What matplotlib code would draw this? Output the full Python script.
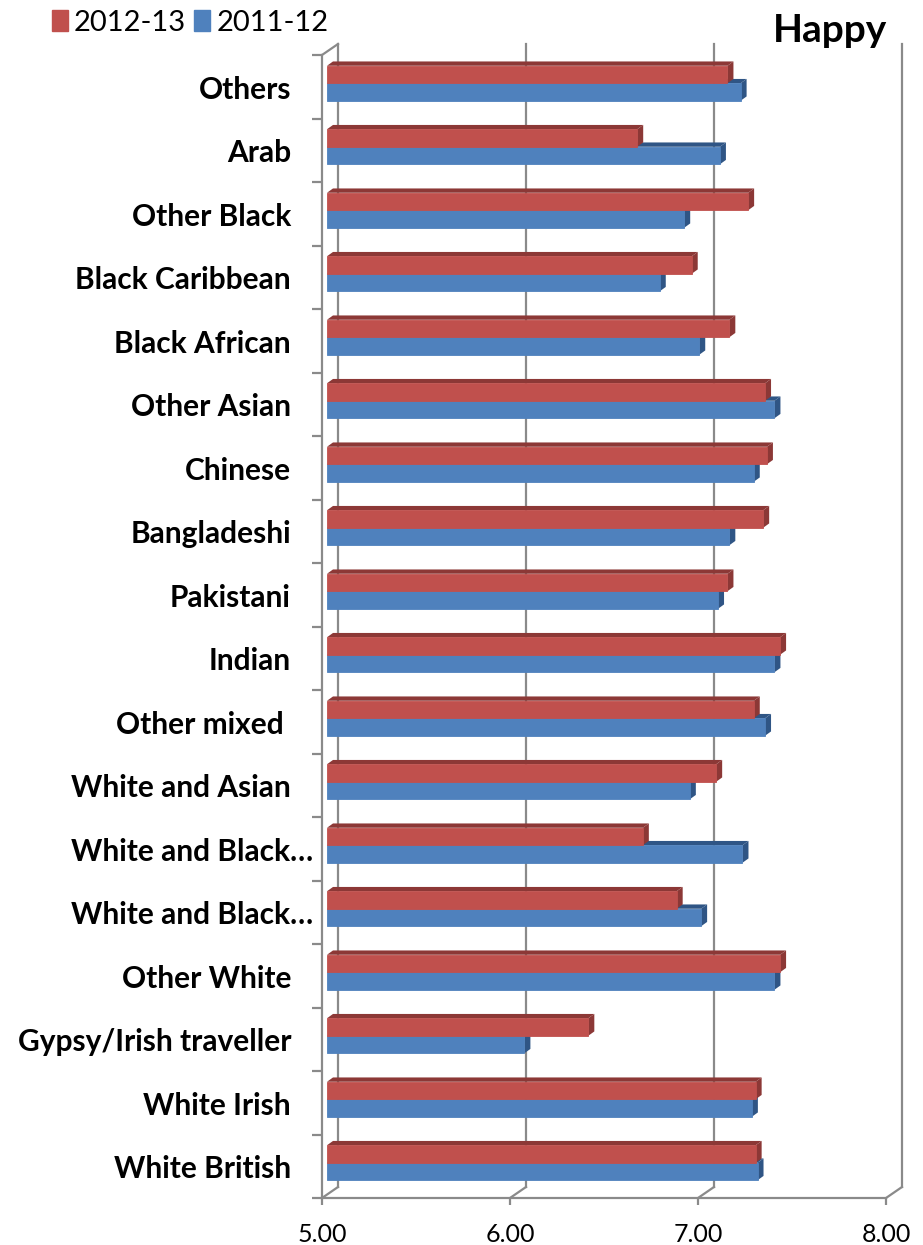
import matplotlib.pyplot as plt
from matplotlib.patches import Polygon, Patch

# data (bottom to top, as drawn)
categories = ['White British', 'White Irish', 'Gypsy/Irish traveller', 'Other White',
              'White and Black…', 'White and Black…', 'White and Asian', 'Other mixed ',
              'Indian', 'Pakistani', 'Bangladeshi', 'Chinese', 'Other Asian',
              'Black African', 'Black Caribbean', 'Other Black', 'Arab', 'Others']
happy_2012_13 = [7.28, 7.28, 6.39, 7.41, 6.86, 6.68, 7.07, 7.27, 7.41,
                 7.13, 7.32, 7.34, 7.33, 7.14, 6.94, 7.24, 6.65, 7.13]
happy_2011_12 = [7.29, 7.26, 6.05, 7.38, 6.99, 7.21, 6.93, 7.33, 7.38,
                 7.08, 7.14, 7.27, 7.38, 6.98, 6.77, 6.90, 7.09, 7.20]
x_ticks = [5.0, 6.0, 7.0, 8.0]
series_names = ['2012-13', '2011-12']
title = 'Happy'

plt.rcParams['font.family'] = ['Lato', 'DejaVu Sans']

W, H = 923, 1245
fig = plt.figure(figsize=(W / 100, H / 100), dpi=100)
ax = fig.add_axes([322 / W, 47 / H, 564 / W, 1143 / H])
n = len(categories)
ax.set_xlim(x_ticks[0], x_ticks[-1])
ax.set_ylim(-0.5, n - 0.5)

# pixel -> data scale
px_x = (x_ticks[-1] - x_ticks[0]) / 564
px_y = n / 1143
DX, DY = 16 * px_x, 11 * px_y          # full depth of the 3d box
bx, by = 5 * px_x, 3.5 * px_y          # bars sit a bit behind the front plane
ddx, ddy = 6 * px_x, 4.3 * px_y        # depth of a bar
bh = 17.5 * px_y                       # bar thickness

grid_c = '#8a8a8a'
# back wall gridlines + floor slants
for v in x_ticks:
    ax.plot([v + DX, v + DX], [-0.5 + DY, n - 0.5 + DY], color=grid_c, lw=1.6,
            clip_on=False, zorder=1)
    ax.plot([v, v + DX], [-0.5, -0.5 + DY], color=grid_c, lw=1.6, clip_on=False, zorder=1)
ax.plot([x_ticks[0], x_ticks[0] + DX], [n - 0.5, n - 0.5 + DY], color=grid_c, lw=1.6,
        clip_on=False, zorder=1)


def bar3d(y0, v, front, dark, z):
    x0 = x_ticks[0] + bx
    x1 = v + bx
    ax.barh(y0, v - x_ticks[0], left=x0, height=bh, align='edge', color=front,
            edgecolor=front, lw=0.6, zorder=z + 1)
    yt = y0 + bh
    top = [(x0, yt), (x1, yt), (x1 + ddx, yt + ddy), (x0 + ddx, yt + ddy)]
    side = [(x1, y0), (x1 + ddx, y0 + ddy), (x1 + ddx, yt + ddy), (x1, yt)]
    ax.add_patch(Polygon(top, closed=True, facecolor=dark, edgecolor='none', zorder=z,
                         clip_on=False))
    ax.add_patch(Polygon(side, closed=True, facecolor=dark, edgecolor='none', zorder=z,
                         clip_on=False))


for i in range(n):
    c = i + by
    bar3d(c - bh, happy_2011_12[i], '#4f81bd', '#2f5585', 2)
    bar3d(c, happy_2012_13[i], '#c0504d', '#8c3836', 4)

# axes: front left wall and floor edge
for s in ['top', 'right']:
    ax.spines[s].set_visible(False)
for s in ['left', 'bottom']:
    ax.spines[s].set_color(grid_c)
    ax.spines[s].set_linewidth(1.6)
ax.set_yticks([k - 0.5 for k in range(n + 1)])
ax.set_yticklabels([])
ax.tick_params(axis='y', length=7, width=1.6, color=grid_c)
ax.set_xticks(x_ticks)
ax.set_xticklabels([f'{v:.2f}' for v in x_ticks], fontsize=18)
ax.tick_params(axis='x', length=5, width=1.6, color=grid_c, pad=13)

# category labels
for i, name in enumerate(categories):
    xr = x_ticks[0] - (9 if name.endswith('…') else 31) * px_x
    ax.text(xr, i - 12 * px_y, name, ha='right', va='baseline', fontsize=21.5,
            fontweight='bold', clip_on=False)

fig.text(887 / W, 1 - 30 / H, title, ha='right', va='center', fontsize=28, fontweight='bold')

handles = [Patch(color='#c0504d'), Patch(color='#4f81bd')]
fig.legend(handles, series_names, loc='upper left', bbox_to_anchor=(40 / W, 1 + 2 / H),
           ncol=2, frameon=False, fontsize=21, handlelength=0.55, handleheight=0.7,
           handletextpad=0.2, columnspacing=0.3, borderaxespad=0)

fig.savefig('out.png', dpi=100)
